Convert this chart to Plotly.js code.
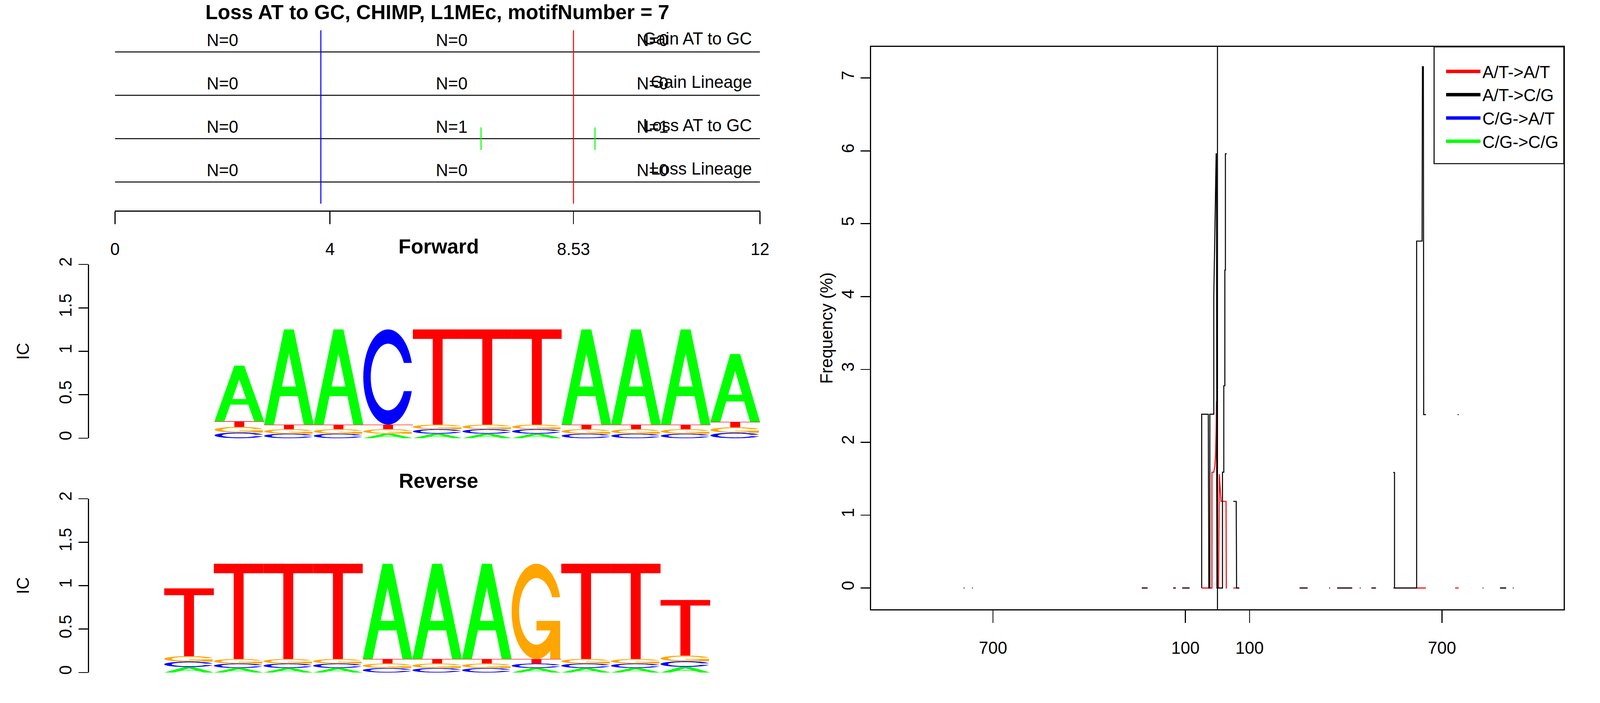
<!DOCTYPE html>
<html>
<head>
<meta charset="utf-8">
<script src="https://cdn.plot.ly/plotly-3.0.1.min.js"></script>
<style>
  html, body { margin: 0; padding: 0; background: #fff; overflow: hidden; }
  #chart { width: 100vw; height: 100vh; }
</style>
</head>
<body>
<div id="chart"></div>
<script>
// ---- top track panel ----
const chartTitle = 'Loss AT to GC, CHIMP, L1MEc, motifNumber = 7'
const trackNames = ['Gain AT to GC', 'Gain Lineage', 'Loss AT to GC', 'Loss Lineage']
const trackLevels = [4, 3, 2, 1]
const trackCounts = [[0, 0, 0], [0, 0, 0], [0, 1, 1], [0, 0, 0]]
const countX = [2, 6.265, 10]
const motifLength = 12
const topTicks = [0, 4, 8.53, 12]
const topTickText = ['0', '4', '8.53', '12']
const blueMarkX = 3.83
const redMarkX = 8.53
const lossAtGcHits = [6.81, 8.93]

// ---- logos: information content per letter, per column ----
const bases = ['A', 'C', 'G', 'T']
const fwdA = [0.64, 1.096, 1.096, 0.052, 0.052, 0.052, 0.052, 1.096, 1.096, 1.096, 0.779]
const fwdC = [0.065, 0.052, 0.052, 1.096, 0.052, 0.052, 0.052, 0.052, 0.052, 0.052, 0.063]
const fwdG = [0.065, 0.052, 0.052, 0.052, 0.052, 0.052, 0.052, 0.052, 0.052, 0.052, 0.063]
const fwdT = [0.065, 0.052, 0.052, 0.052, 1.096, 1.096, 1.096, 0.052, 0.052, 0.052, 0.063]
const revA = [0.063, 0.052, 0.052, 0.052, 1.096, 1.096, 1.096, 0.052, 0.052, 0.052, 0.065]
const revC = [0.063, 0.052, 0.052, 0.052, 0.052, 0.052, 0.052, 0.052, 0.052, 0.052, 0.065]
const revG = [0.063, 0.052, 0.052, 0.052, 0.052, 0.052, 0.052, 1.096, 0.052, 0.052, 0.065]
const revT = [0.779, 1.096, 1.096, 1.096, 0.052, 0.052, 0.052, 0.052, 1.096, 1.096, 0.64]
const icTicks = [0, 0.5, 1, 1.5, 2]
const icTickText = ['0', '0.5', '1', '1.5', '2']

// ---- frequency panel (NaN gaps as null) ----
const freqTicks = [-700, -100, 100, 700]
const freqTickText = ['700', '100', '100', '700']
const freqYTicks = [0, 1, 2, 3, 4, 5, 6, 7]
const atatX = [-791, -789, null, -765, -763, null, -236, -218, null, -138, -130, null, -110, -87, null,
  -49.3, -17.3, -17.3, -11.5, -8, -6, -4.1, -3.3, -1.5, 3.3, 5.8, 11.1, 26.7, 27.5, 28.8, null,
  49.3, 67.8, null,
  256, 281, null, 349, 351, null, 373, 420, null, 444, 446, null, 480, 494, null,
  548, 650, null, 741, 752, null, 827, 829, null, 881, 900, null, 921, 923]
const atatY = [0, 0, null, 0, 0, null, 0, 0, null, 0, 0, null, 0, 0, null,
  0, 0, 1.589, 1.589, 1.68, 1.82, 2.2, 2.563, 0, 0, 1.563, 1.189, 1.189, 0, 0, null,
  0, 0, null,
  0, 0, null, 0, 0, null, 0, 0, null, 0, 0, null, 0, 0, null,
  0, 0, null, 0, 0, null, 0, 0, null, 0, 0, null, 0, 0]
const atcgX = [-791, -789, null, -765, -763, null, -236, -218, null, -138, -130, null, -110, -87, null,
  -49.3, -49.3, -28.7, -27, -23.8, -23.8, -11.5, -11.5, -4.1, -3.3, -1.5, 15.6, 15.6, 19.7, 19.7, 23, 23, 24.7, 24.7, 28.8, null,
  49.3, 58.4, 59.6, 67.8, null,
  256, 281, null, 349, 351, null, 373, 420, null, 444, 446, null, 480, 494, null,
  548, 552, 552, 621, 621, 638, 639, 642, 643, 650, null,
  749, 752, null, 827, 829, null, 881, 900, null, 921, 923]
const atcgY = [0, 0, null, 0, 0, null, 0, 0, null, 0, 0, null, 0, 0, null,
  0, 2.385, 2.385, 0, 0, 2.385, 2.385, 4.0, 5.96, 5.96, 0, 0, 1.589, 1.589, 2.777, 2.777, 4.364, 4.364, 5.96, 5.96, null,
  1.189, 1.189, 0, 0, null,
  0, 0, null, 0, 0, null, 0, 0, null, 0, 0, null, 0, 0, null,
  1.586, 1.586, 0, 0, 4.762, 4.762, 7.155, 7.155, 2.38, 2.38, null,
  2.38, 2.38, null, 0, 0, null, 0, 0, null, 0, 0]
const cgatX = [], cgatY = []
const cgcgX = [], cgcgY = []
const seriesNames = ['A/T->A/T', 'A/T->C/G', 'C/G->A/T', 'C/G->C/G']

// ---- styling ----
// layout is designed on a 5400 x 1800 canvas and stretched to the window
const W = window.innerWidth, H = window.innerHeight
const SX = W / 5400, SY = H / 1800
const SF = Math.sqrt(SX * SY)
const FONT = 'Liberation Sans, Arial, sans-serif'
const letterColors = { A: '#00ff00', C: '#0000ff', G: '#ffa500', T: '#ff0000' }
const seriesColors = ['#ff0000', '#000000', '#0000ff', '#00ff00']
const px = v => v / 5400
const py = v => 1 - v / 1800
const lw = 3 * SF

// width of a font relative to Liberation Sans, null when it is not installed
function fontRatio(fam) {
  const c = document.createElement('canvas').getContext('2d')
  const s = 'Loss AT to GC, CHIMP, N=0 8.53 Gain Lineage'
  c.font = '100px serif'
  const ws = c.measureText(s).width
  c.font = '100px "' + fam + '", serif'
  const wf = c.measureText(s).width
  c.font = '100px "Liberation Sans", serif'
  const wl = c.measureText(s).width
  return Math.abs(wf - ws) < 0.5 ? null : wf / wl
}
// horizontal texts: a narrow face keeps both width and height near the design
const narrowR = fontRatio('Liberation Sans Narrow')
const useNarrow = narrowR && narrowR < 0.95
const HFONT = useNarrow ? 'Liberation Sans Narrow, Liberation Sans, sans-serif' : FONT
const HS = useNarrow ? Math.min(SY, SX / narrowR) : SF

// unit-box letter outlines, same construction as seqLogo
function ringC() {
  const pts = []
  const a0 = 0.3, a1 = 2 * Math.PI - 0.3
  for (let i = 0; i <= 60; i++) {
    const a = a0 + (a1 - a0) * i / 60
    pts.push([0.5 + 0.5 * Math.cos(a), 0.5 + 0.5 * Math.sin(a)])
  }
  // inner edge cut at the same height as the outer tips
  const bi = Math.asin(0.5 * Math.sin(0.3) / 0.35)
  for (let i = 0; i <= 60; i++) {
    const a = (2 * Math.PI - bi) - (2 * Math.PI - 2 * bi) * i / 60
    pts.push([0.5 + 0.35 * Math.cos(a), 0.5 + 0.35 * Math.sin(a)])
  }
  return pts
}

function letterParts(letter) {
  if (letter === 'A')
    return [[[0, 0], [0.4, 1], [0.6, 1], [1, 0], [0.8, 0], [0.68, 0.3], [0.32, 0.3], [0.2, 0]],
            [[0.36, 0.4], [0.5, 0.75], [0.64, 0.4]]]
  if (letter === 'T')
    return [[[0, 1], [1, 1], [1, 0.9], [0.6, 0.9], [0.6, 0], [0.4, 0], [0.4, 0.9], [0, 0.9]]]
  return [ringC()]
}

function gBar() {
  const r1 = 0.5 + 0.5 * Math.cos(0.3)
  return [[r1, 0.4], [0.5, 0.4], [0.5, 0.3], [r1 - 0.2, 0.3], [r1 - 0.2, 0], [r1, 0]]
}

function toPath(polys, x0, y0, w, h) {
  return polys.map(p => 'M' + p.map(([u, v]) =>
    (x0 + u * w).toFixed(4) + ',' + (y0 + v * h).toFixed(4)).join('L') + 'Z').join('')
}

function logoShapes(cols, xref, yref) {
  const shapes = []
  const n = cols[0].length
  for (let i = 0; i < n; i++) {
    const stack = bases.map((b, j) => ({ b, j, h: cols[j][i] }))
      .sort((p, q) => p.h - q.h || p.j - q.j)
    let y = 0
    const x0 = i + 0.5
    for (const s of stack) {
      shapes.push({ type: 'path', xref, yref, path: toPath(letterParts(s.b), x0, y, 1, s.h),
        fillcolor: letterColors[s.b], line: { width: 0 }, fillrule: 'evenodd' })
      if (s.b === 'G')
        shapes.push({ type: 'path', xref, yref, path: toPath([gBar()], x0, y, 1, s.h),
          fillcolor: letterColors.G, line: { width: 0 } })
      y += s.h
    }
  }
  return shapes
}

// ---- traces ----
const traces = []
const hFont = { family: HFONT, size: 50 * HS, color: '#000' }

trackLevels.forEach(lv => {
  traces.push({ x: [0, motifLength], y: [lv, lv], xaxis: 'x', yaxis: 'y', mode: 'lines',
    line: { color: '#000', width: lw }, showlegend: false })
})
traces.push({ x: [blueMarkX, blueMarkX], y: [0.5, 4.5], xaxis: 'x', yaxis: 'y', mode: 'lines',
  line: { color: '#0000ff', width: lw }, showlegend: false })
traces.push({ x: [redMarkX, redMarkX], y: [0.5, 4.5], xaxis: 'x', yaxis: 'y', mode: 'lines',
  line: { color: '#ff0000', width: lw }, showlegend: false })
const hitX = [], hitY = []
lossAtGcHits.forEach(h => { hitX.push(h, h, null); hitY.push(2 - 0.26, 2 + 0.26, null) })
traces.push({ x: hitX, y: hitY, xaxis: 'x', yaxis: 'y', mode: 'lines',
  line: { color: '#00ff00', width: lw }, showlegend: false })

const nX = [], nY = [], nT = []
trackLevels.forEach((lv, t) => countX.forEach((cx, j) => {
  nX.push(cx); nY.push(lv + 0.234); nT.push('N=' + trackCounts[t][j])
}))
traces.push({ x: nX, y: nY, text: nT, xaxis: 'x', yaxis: 'y', mode: 'text',
  textposition: 'middle center', textfont: hFont, showlegend: false, cliponaxis: false })
traces.push({ x: trackLevels.map(() => motifLength - 0.15), y: trackLevels.map(lv => lv + 0.27),
  text: trackNames, xaxis: 'x', yaxis: 'y', mode: 'text', textposition: 'middle left',
  textfont: hFont, showlegend: false, cliponaxis: false })

// logo subplots need a trace to exist
traces.push({ x: [1], y: [0], xaxis: 'x2', yaxis: 'y2', mode: 'markers', marker: { opacity: 0 }, showlegend: false })
traces.push({ x: [1], y: [0], xaxis: 'x3', yaxis: 'y3', mode: 'markers', marker: { opacity: 0 }, showlegend: false })

// frequency lines
const seriesX = [atatX, atcgX, cgatX, cgcgX]
const seriesY = [atatY, atcgY, cgatY, cgcgY]
seriesNames.forEach((name, i) => {
  traces.push({ x: seriesX[i], y: seriesY[i], xaxis: 'x4', yaxis: 'y4', mode: 'lines',
    line: { color: seriesColors[i], width: lw }, connectgaps: false, showlegend: false, name })
})
// thick legend keys
seriesNames.forEach((name, i) => {
  traces.push({ x: [null], y: [null], xaxis: 'x4', yaxis: 'y4', mode: 'lines', name,
    line: { color: seriesColors[i], width: 10 * SF } })
})

// ---- layout ----
const vFont = { family: FONT, size: 50 * SF, color: '#000' }   // rotated texts
const blankAxis = { showline: false, showticklabels: false, ticks: '', showgrid: false, zeroline: false }
const icAxis = (domain, anchor) => ({
  domain, anchor, range: [0, 2], showline: true, linewidth: lw, linecolor: '#000',
  ticks: 'outside', ticklen: 32 * SX, tickwidth: lw, tickcolor: '#000',
  tickvals: icTicks, ticktext: icTickText, tickangle: -90, tickfont: vFont,
  showgrid: false, zeroline: false,
  title: { text: 'IC', font: vFont, standoff: 56 * SX / 0.7585 }
})

const layout = {
  width: W, height: H,
  margin: { l: 0, r: 0, t: 0, b: 0 },
  paper_bgcolor: '#fff', plot_bgcolor: 'rgba(0,0,0,0)',
  font: { family: FONT, color: '#000' },
  title: { text: chartTitle, font: { family: HFONT, size: 60 * HS, weight: 700 },
    x: px(1476), xanchor: 'center', xref: 'paper', y: py(31), yanchor: 'middle', yref: 'paper' },
  xaxis: { domain: [px(388), px(2565)], range: [0, motifLength], anchor: 'y',
    showline: true, linewidth: lw, linecolor: '#000', ticks: 'outside', ticklen: 32 * SY, tickwidth: lw,
    tickcolor: '#000', tickvals: topTicks, ticktext: topTickText, tickfont: hFont,
    ticklabelstandoff: 27 * SY, showgrid: false, zeroline: false },
  yaxis: Object.assign({ domain: [py(539), py(66)], range: [0.3423, 4.6036], anchor: 'x' }, blankAxis),
  xaxis2: Object.assign({ domain: [px(300), px(2565)], range: [-2.0335, 11.5], anchor: 'y2' }, blankAxis),
  yaxis2: icAxis([py(1122), py(677)], 'x2'),
  xaxis3: Object.assign({ domain: [px(300), px(2565)], range: [-1.0177, 12.504], anchor: 'y3' }, blankAxis),
  yaxis3: icAxis([py(1722), py(1277)], 'x3'),
  xaxis4: { domain: [px(2940), px(5278)], range: [-1080, 1080], anchor: 'y4',
    showline: true, mirror: true, linewidth: lw, linecolor: '#000', ticks: 'outside', ticklen: 32 * SY,
    tickwidth: lw, tickcolor: '#000', tickvals: freqTicks, ticktext: freqTickText, tickfont: hFont,
    ticklabelstandoff: 27 * SY, showgrid: false, zeroline: false },
  yaxis4: { domain: [py(1560), py(120)], range: [-0.2916, 7.427], anchor: 'x4',
    showline: true, mirror: true, linewidth: lw, linecolor: '#000', ticks: 'outside', ticklen: 32 * SX,
    tickwidth: lw, tickcolor: '#000', tickvals: freqYTicks, tickangle: -90, tickfont: vFont,
    showgrid: false, zeroline: false,
    title: { text: 'Frequency (%)', font: vFont, standoff: 2 } },
  showlegend: true,
  legend: { x: px(4874), xanchor: 'left', y: py(148), yanchor: 'top', xref: 'paper', yref: 'paper',
    bgcolor: 'rgba(0,0,0,0)', borderwidth: 0, font: hFont,
    itemwidth: 88 * SX / 0.7585, tracegroupgap: 0 },
  annotations: [
    { text: 'Forward', x: px(1480), y: py(631), xref: 'paper', yref: 'paper', showarrow: false,
      font: { family: HFONT, size: 60 * HS, weight: 700 }, xanchor: 'center', yanchor: 'middle' },
    { text: 'Reverse', x: px(1480), y: py(1231), xref: 'paper', yref: 'paper', showarrow: false,
      font: { family: HFONT, size: 60 * HS, weight: 700 }, xanchor: 'center', yanchor: 'middle' }
  ],
  shapes: [
    ...logoShapes([fwdA, fwdC, fwdG, fwdT], 'x2', 'y2'),
    ...logoShapes([revA, revC, revG, revT], 'x3', 'y3'),
    { type: 'line', xref: 'x4', yref: 'y4 domain', x0: 0, x1: 0, y0: 0, y1: 1,
      line: { color: '#000', width: lw } },
    // legend frame
    { type: 'rect', xref: 'paper', yref: 'paper', x0: px(4840), x1: px(5278), y0: py(419), y1: py(120),
      fillcolor: '#fff', line: { color: '#000', width: lw }, layer: 'above' }
  ]
}

Plotly.newPlot('chart', traces, layout, { staticPlot: true, displayModeBar: false })
</script>
</body>
</html>
